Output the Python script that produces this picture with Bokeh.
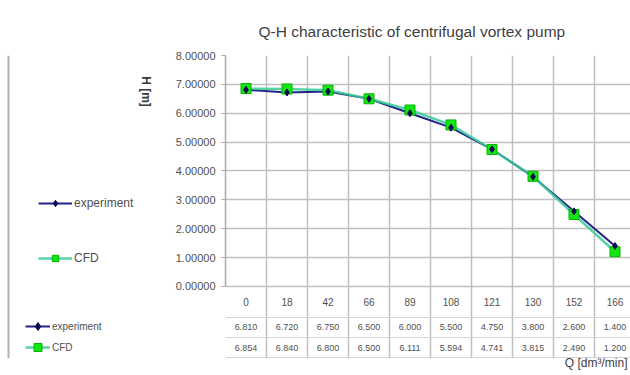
import numpy as np
from bokeh.plotting import figure
from bokeh.layouts import row
from bokeh.models import (Range1d, FixedTicker, Grid, Legend, LegendItem, Label, Title,
                          ColumnDataSource, NumeralTickFormatter, Span)
from bokeh.embed import file_html
from bokeh.resources import INLINE
from bokeh.core.properties import value

# ---------------- data ----------------
TITLE = "Q-H characteristic of centrifugal vortex pump"
Y_LABEL = "H [m]"
X_LABEL = "Q [dm³/min]"
flow = ["0", "18", "42", "66", "89", "108", "121", "130", "152", "166"]
head_experiment = [6.810, 6.720, 6.750, 6.500, 6.000, 5.500, 4.750, 3.800, 2.600, 1.400]
head_cfd = [6.854, 6.840, 6.800, 6.500, 6.111, 5.594, 4.741, 3.815, 2.490, 1.200]
y_ticks = [0, 1, 2, 3, 4, 5, 6, 7, 8]

# ---------------- layout / style constants ----------------
FONT = "Liberation Sans"
LEFT_W = 160
MAIN_W = 470
H = 375
TABLE_BOTTOM = -2.5
CAT_ROW_Y = -0.55
EXP_ROW_Y = -1.40
CFD_ROW_Y = -2.12
ROW_LINES = [-1.08, -1.78, -2.47]
X_END_FRAC = 405 / 410          # plot area is cut at the right edge
GRID_COLOR = "#bfbfbf"
TEXT_COLOR = "#505050"
BORDER_COLOR = "#b4b4b4"

EXP_LINE = "#22228a"
EXP_MARK = "#0a0a50"
CFD_LINE = "#3acb98"
CFD_FILL = "#14e614"
CFD_EDGE = "#00b400"

n = len(flow)
xs = np.arange(n) + 0.5

# ---------------- main figure ----------------
p = figure(width=MAIN_W, height=H, output_backend="svg", toolbar_location=None,
           x_range=Range1d(0, n * X_END_FRAC), y_range=Range1d(TABLE_BOTTOM, y_ticks[-1]),
           x_axis_type=None,
           min_border_left=65, min_border_right=0, min_border_top=55, min_border_bottom=17,
           background_fill_color="white", border_fill_color="white")
p.outline_line_color = None

p.title.text = TITLE
p.title.align = "left"
p.title.offset = 33
p.title.standoff = 31
p.title.text_font = FONT
p.title.text_font_size = "15.5px"
p.title.text_font_style = "normal"
p.title.text_color = "#404040"

p.grid.visible = False
p.add_layout(Grid(dimension=0, ticker=FixedTicker(ticks=list(range(n + 1))),
                  grid_line_color=GRID_COLOR, grid_line_width=1.5))
p.add_layout(Grid(dimension=1, ticker=FixedTicker(ticks=y_ticks),
                  grid_line_color=GRID_COLOR, grid_line_width=1.5))
p.add_layout(Grid(dimension=1, ticker=FixedTicker(ticks=ROW_LINES),
                  grid_line_color="#d4d4d4", grid_line_width=1))

yax = p.yaxis[0]
yax.ticker = FixedTicker(ticks=y_ticks)
yax.bounds = (y_ticks[0], y_ticks[-1])
yax.formatter = NumeralTickFormatter(format="0.00000")
yax.major_label_text_font = FONT
yax.major_label_text_font_size = "11px"
yax.major_label_text_color = TEXT_COLOR
yax.axis_line_color = "#a8a8a8"
yax.axis_line_width = 1.5
yax.major_tick_line_color = "#a8a8a8"
yax.major_tick_out = 4
yax.major_tick_in = 0
yax.minor_tick_line_color = None
yax.major_label_standoff = 6

def draw_series(fig):
    el = fig.line(xs, head_experiment, line_color=EXP_LINE, line_width=2)
    cl = fig.line(xs, head_cfd, line_color=CFD_LINE, line_width=2.5, line_alpha=0.85)
    cm = fig.scatter(xs, head_cfd, marker="square", size=10,
                     fill_color=CFD_FILL, line_color=CFD_EDGE, line_width=1)
    em = fig.scatter(xs, head_experiment, marker="diamond", size=7,
                     fill_color=EXP_MARK, line_color=EXP_MARK)
    return el, em, cl, cm

draw_series(p)

src = ColumnDataSource(dict(
    x=xs, flow=flow,
    exp=[f"{v:.3f}" for v in head_experiment],
    cfd=[f"{v:.3f}" for v in head_cfd],
))
common = dict(text_align="center", text_baseline="middle", text_font=value(FONT),
              text_color=TEXT_COLOR)
p.text(x="x", y=CAT_ROW_Y, text="flow", source=src, text_font_size="10px", **common)
p.text(x="x", y=EXP_ROW_Y, text="exp", source=src, text_font_size="9px", **common)
p.text(x="x", y=CFD_ROW_Y, text="cfd", source=src, text_font_size="9px", **common)

p.add_layout(Title(text=X_LABEL, align="right", offset=3, standoff=-10,
                   text_font=FONT, text_font_size="12px", text_font_style="normal",
                   text_color="#404040"), "below")

# ---------------- left panel (legend, table row labels, y title) ----------------
# the series are drawn again here only as legend sources; the range keeps them off-screen
lf = figure(width=LEFT_W, height=H, output_backend="svg", toolbar_location=None,
            x_range=Range1d(-3, -2), y_range=Range1d(0, 1),
            x_axis_type=None, y_axis_type=None,
            min_border=0, min_border_left=0, min_border_right=0,
            min_border_top=0, min_border_bottom=0,
            background_fill_color="white", border_fill_color="white")
lf.outline_line_color = None
lf.grid.visible = False

k_exp_line, k_exp_mark, k_cfd_line, k_cfd_mark = draw_series(lf)

def make_items():
    return [LegendItem(label="experiment", renderers=[k_exp_line, k_exp_mark]),
            LegendItem(label="CFD", renderers=[k_cfd_line, k_cfd_mark])]

lf.add_layout(Legend(items=make_items(), location=(38, 92), orientation="vertical",
                     glyph_width=34, glyph_height=16, label_height=16, spacing=39,
                     padding=0, margin=0, label_standoff=2,
                     border_line_color=None, background_fill_alpha=0,
                     label_text_font=FONT, label_text_font_size="12px",
                     label_text_color=TEXT_COLOR))
lf.add_layout(Legend(items=make_items(), location=(25, 1), orientation="vertical",
                     glyph_width=25, glyph_height=20, label_height=20, spacing=1,
                     padding=0, margin=0, label_standoff=2,
                     border_line_color=None, background_fill_alpha=0,
                     label_text_font=FONT, label_text_font_size="10px",
                     label_text_color=TEXT_COLOR))
lf.add_layout(Label(x=145, y=267, x_units="screen", y_units="screen", text=Y_LABEL,
                    angle=-np.pi / 2, text_align="center", text_baseline="middle",
                    text_font=FONT, text_font_size="12px", text_font_style="bold",
                    text_color="#383838"))
# chart-area border on the left
lf.add_layout(Span(location=8, location_units="screen", dimension="height",
                   line_color=BORDER_COLOR, line_width=2))

layout = row(lf, p, spacing=0)
open("out.html", "w").write(file_html(layout, INLINE))
